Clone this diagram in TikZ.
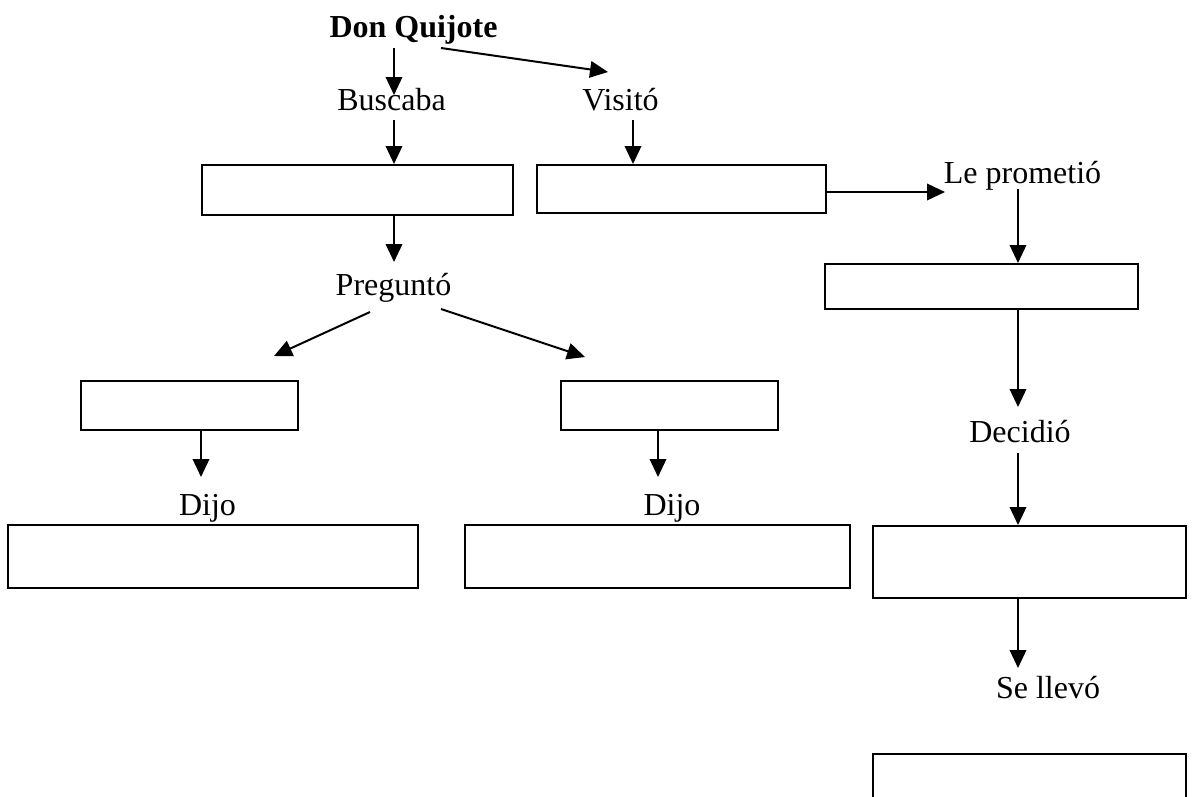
\documentclass[tikz,border=0pt]{standalone}
\usepackage{fontspec}
\setmainfont{Liberation Serif}
\usetikzlibrary{arrows.meta,calc}
\begin{document}
\begin{tikzpicture}[x=1pt,y=-1pt,
  lbl/.style={inner sep=0pt,anchor=base,font=\fontsize{32}{38}\selectfont},
  emptybox/.style={draw,line width=2pt,inner sep=0pt,fill=white},
  arr/.style={line width=2pt,-{Triangle[length=18pt,width=16.5pt]}}]
\useasboundingbox (0,0) rectangle (1196,796);
\clip (0,0) rectangle (1196,796);
\fill[white] (0,0) rectangle (1196,796);
% labels
\node[lbl,font=\fontsize{32}{38}\selectfont\bfseries] (dq) at (413.5,37) {Don Quijote};
\node[lbl] (busc) at (391.5,110) {Buscaba};
\node[lbl] (visit) at (620.5,110) {Visitó};
\node[lbl] (prom) at (1022.5,183) {Le prometió};
\node[lbl] (preg) at (393.5,295) {Preguntó};
\node[lbl] (dijo1) at (207.5,515) {Dijo};
\node[lbl] (dijo2) at (672,515) {Dijo};
\node[lbl] (decid) at (1020,442) {Decidió};
\node[lbl] (llevo) at (1048,698) {Se llevó};
% boxes
\node[emptybox,minimum width=311pt,minimum height=50pt] (b1) at (357.5,190) {};
\node[emptybox,minimum width=289pt,minimum height=48pt] (b2) at (681.5,189) {};
\node[emptybox,minimum width=313pt,minimum height=45pt] (b3) at (981.5,286.5) {};
\node[emptybox,minimum width=313pt,minimum height=72pt] (b4) at (1029.5,562) {};
\node[emptybox,minimum width=313pt,minimum height=66pt] (b5) at (1029.5,787) {};
\node[emptybox,minimum width=217pt,minimum height=49pt] (bl1) at (189.5,405.5) {};
\node[emptybox,minimum width=217pt,minimum height=49pt] (br1) at (669.5,405.5) {};
\node[emptybox,minimum width=410pt,minimum height=63pt] (bll) at (213,556.5) {};
\node[emptybox,minimum width=385pt,minimum height=63pt] (brr) at (657.5,556.5) {};
% arrows
\draw[arr] ($(dq.base)+(-19.5,11)$) -- ($(busc.base)+(2.5,-15)$);
\draw[arr] ($(dq.base)+(27.5,11)$) -- ($(visit.base)+(-12.5,-38)$);
\draw[arr] ($(busc.base)+(2.5,10)$) -- ($(b1.north)+(36.5,0)$);
\draw[arr] ($(visit.base)+(12.5,10)$) -- ($(b2.north)+(-48.5,0)$);
\draw[arr] ($(b1.south)+(36.5,0)$) -- ($(preg.base)+(0.5,-33)$);
\draw[arr] ($(b2.east)+(0,3)$) -- ($(prom.base)+(-77.5,9)$);
\draw[arr] ($(prom.base)+(-4.5,6)$) -- ($(b3.north)+(36.5,0)$);
\draw[arr] ($(b3.south)+(36.5,0)$) -- ($(decid.base)+(-2,-35)$);
\draw[arr] ($(decid.base)+(-2,11)$) -- ($(b4.north)+(-11.5,0)$);
\draw[arr] ($(b4.south)+(-11.5,0)$) -- ($(llevo.base)+(-30,-30)$);
\draw[arr] ($(preg.base)+(-23.5,17)$) -- ($(bl1.north)+(84.5,-24)$);
\draw[arr] ($(preg.base)+(47.5,14)$) -- ($(br1.north)+(-84.5,-23)$);
\draw[arr] ($(bl1.south)+(11.5,0)$) -- ($(dijo1.base)+(-6.5,-38)$);
\draw[arr] ($(br1.south)+(-11.5,0)$) -- ($(dijo2.base)+(-14,-38)$);
\end{tikzpicture}
\end{document}
